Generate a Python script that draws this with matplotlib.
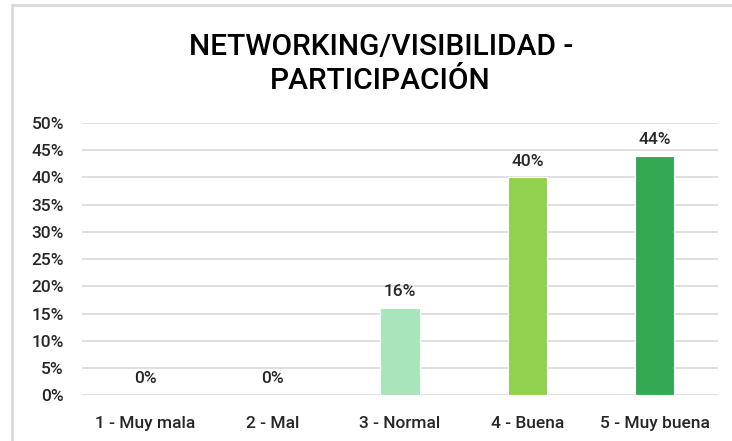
import matplotlib
matplotlib.use('Agg')
import matplotlib.pyplot as plt
from matplotlib.patches import Rectangle
from matplotlib.ticker import PercentFormatter

plt.rcParams['font.family'] = ['Roboto', 'DejaVu Sans']

categories = ['1 - Muy mala', '2 - Mal', '3 - Normal', '4 - Buena', '5 - Muy buena']
values = [0, 0, 16, 40, 44]
colors = ['#A9E5BB', '#A9E5BB', '#A9E5BB', '#92D050', '#34A853']
yticks = [0, 5, 10, 15, 20, 25, 30, 35, 40, 45, 50]

fig = plt.figure(figsize=(7.32, 4.41), dpi=100)
ax = fig.add_axes([0.112, 0.104, 0.869, 0.617])

# light border of the chart frame (cropped at right and bottom)
fig.patches.append(Rectangle((12 / 732, -0.1), 1.1, 0.1 + 1 - 5 / 441,
                             transform=fig.transFigure, fill=False,
                             edgecolor='#D9D9D9', linewidth=2))

x = range(len(categories))
bars = ax.bar(x, values, width=0.31, color=colors, edgecolor='white',
              linewidth=0.8, zorder=3)

for xi, v in zip(x, values):
    ax.text(xi, v + 1.6, f'{v}%', ha='center', va='bottom', fontsize=12.5,
            fontweight='medium', color='#262626')

ax.set_xlim(-0.5, 4.5)
ax.set_ylim(0, 50)
ax.set_yticks(yticks)
ax.yaxis.set_major_formatter(PercentFormatter(decimals=0))
ax.set_xticks(list(x))
ax.set_xticklabels(categories)
ax.grid(axis='y', color='#D9D9D9', linewidth=1.2, zorder=0)
for s in ax.spines.values():
    s.set_visible(False)
ax.tick_params(axis='both', length=0, labelsize=12.5, colors='#262626')
for lbl in ax.get_xticklabels() + ax.get_yticklabels():
    lbl.set_fontweight('medium')
ax.tick_params(axis='y', pad=13)
ax.tick_params(axis='x', pad=15)

fig.text(0.52, 0.855, 'NETWORKING/VISIBILIDAD -\nPARTICIPACIÓN', ha='center',
         va='center', fontsize=21.5, fontweight='medium', linespacing=1.3,
         color='black')

fig.savefig('out.png', dpi=100)
